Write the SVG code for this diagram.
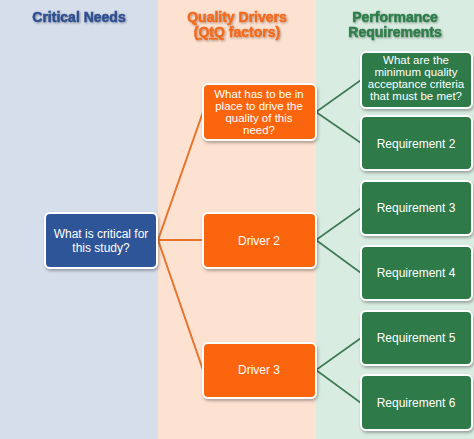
<svg xmlns="http://www.w3.org/2000/svg" width="474" height="439" viewBox="0 0 474 439">
<defs>
<filter id="sh" x="-20%" y="-20%" width="140%" height="150%">
<feDropShadow dx="1" dy="2" stdDeviation="1.5" flood-color="#000" flood-opacity="0.3"/>
</filter>
<filter id="tsh" x="-10%" y="-30%" width="120%" height="160%">
<feDropShadow dx="1" dy="1" stdDeviation="0.8" flood-color="#000" flood-opacity="0.35"/>
</filter>
</defs>
<style>
.box{stroke:#fff;stroke-width:2;filter:url(#sh)}
.blue{fill:#2f5597}
.orange{fill:#fb6509}
.green{fill:#2e7a4a}
.t{font-family:"Liberation Sans",Arial,sans-serif;font-size:12px;fill:#fff;text-anchor:middle}
.m{font-size:11.5px}
.h{font-family:"Liberation Sans",Arial,sans-serif;font-size:14px;font-weight:bold;text-anchor:middle;stroke-width:0.5;filter:url(#tsh)}
.oc{stroke:#e8742c;stroke-width:2;fill:none}
.gc{stroke:#3d7a55;stroke-width:1.6;fill:none}
</style>
<rect x="0" y="0" width="158" height="439" fill="#d6deec"/>
<rect x="158" y="0" width="158" height="439" fill="#fde1d1"/>
<rect x="316" y="0" width="158" height="439" fill="#d9ece1"/>
<g id="headers">
<text class="h" x="79" y="22" fill="#2f4f8f" stroke="#2f4f8f">Critical Needs</text>
<text class="h" x="237" y="22" fill="#f26b1d" stroke="#f26b1d">Quality Drivers</text>
<text class="h" x="237" y="37" fill="#f26b1d" stroke="#f26b1d">(<tspan text-decoration="underline">QtQ</tspan> factors)</text>
<text class="h" x="395" y="22" fill="#2e7d4a" stroke="#2e7d4a">Performance</text>
<text class="h" x="395" y="37" fill="#2e7d4a" stroke="#2e7d4a">Requirements</text>
</g>
<g id="connectors">
<path class="oc" d="M158 240 L203 112 M158 240 L203 240 M158 240 L203 370"/>
<path class="gc" d="M316 112 L361 80 M316 112 L361 143 M316 240 L361 208 M316 240 L361 273 M316 370 L361 338 M316 370 L361 403"/>
</g>
<g id="critical">
<rect class="box blue" x="45" y="213" width="112" height="55" rx="5"/>
<text class="t" x="101" y="238">What is critical for</text>
<text class="t" x="101" y="252">this study?</text>
</g>
<g id="driver1">
<rect class="box orange" x="203" y="84" width="113" height="56" rx="5"/>
<text class="t m" x="259" y="98">What has to be in</text>
<text class="t m" x="259" y="110">place to drive the</text>
<text class="t m" x="259" y="122">quality of this</text>
<text class="t m" x="259" y="134">need?</text>
</g>
<g id="driver2">
<rect class="box orange" x="203" y="213" width="113" height="55" rx="5"/>
<text class="t" x="259" y="245">Driver 2</text>
</g>
<g id="driver3">
<rect class="box orange" x="203" y="343" width="113" height="55" rx="5"/>
<text class="t" x="259" y="374">Driver 3</text>
</g>
<g id="req1">
<rect class="box green" x="361" y="52" width="111" height="56" rx="5"/>
<text class="t m" x="416" y="64">What are the</text>
<text class="t m" x="416" y="76">minimum quality</text>
<text class="t m" x="416" y="88">acceptance criteria</text>
<text class="t m" x="416" y="100">that must be met?</text>
</g>
<g id="req2">
<rect class="box green" x="361" y="116" width="111" height="54" rx="5"/>
<text class="t" x="416" y="148">Requirement 2</text>
</g>
<g id="req3">
<rect class="box green" x="361" y="181" width="111" height="54" rx="5"/>
<text class="t" x="416" y="212">Requirement 3</text>
</g>
<g id="req4">
<rect class="box green" x="361" y="246" width="111" height="54" rx="5"/>
<text class="t" x="416" y="277">Requirement 4</text>
</g>
<g id="req5">
<rect class="box green" x="361" y="311" width="111" height="54" rx="5"/>
<text class="t" x="416" y="342">Requirement 5</text>
</g>
<g id="req6">
<rect class="box green" x="361" y="375" width="111" height="55" rx="5"/>
<text class="t" x="416" y="407">Requirement 6</text>
</g>
</svg>
